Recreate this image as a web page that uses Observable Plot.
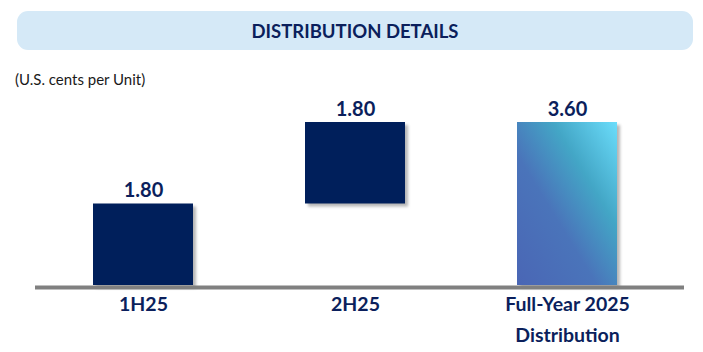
<!DOCTYPE html>
<html>
<head>
<meta charset="utf-8">
<script src="https://cdn.jsdelivr.net/npm/d3@7"></script>
<script src="https://cdn.jsdelivr.net/npm/@observablehq/plot@0.6"></script>
<style>
  html, body { margin: 0; padding: 0; background: #fff; }
  #wrap { position: relative; width: 703px; height: 352px; overflow: hidden; font-family: Lato, "Noto Sans", sans-serif; }
  #banner { position: absolute; left: 17px; top: 11px; width: 676px; height: 39px; border-radius: 11px; background: #D5E9F7;
    display: flex; align-items: center; justify-content: center; color: #0B1F5C; font-weight: bold; font-size: 18.5px; }
  #sub { position: absolute; left: 15px; top: 70px; font-size: 15px; color: #1a1a1a; }
  #chart { position: absolute; left: 0; top: 0; }
</style>
</head>
<body>
<div id="wrap">
  <div id="chart"></div>
  <div id="banner">DISTRIBUTION DETAILS</div>
  <div id="sub">(U.S. cents per Unit)</div>
</div>
<script>
const categories = ["1H25", "2H25", "Full-Year 2025\nDistribution"];
const barStart = [0, 1.80, 0];
const barEnd = [1.80, 3.60, 3.60];
const valueLabels = ["1.80", "1.80", "3.60"];

const rows = categories.map((c, i) => ({ cat: c, y1: barStart[i], y2: barEnd[i], label: valueLabels[i] }));
const navy = "#0B1F5C";
const font = "Lato, 'Noto Sans', sans-serif";

const chart = Plot.plot({
  width: 703,
  height: 352,
  marginLeft: 35,
  marginRight: 19,
  marginBottom: 67,
  marginTop: 100,
  style: { fontFamily: font, background: "transparent" },
  x: { domain: categories, range: [30.4, 679.4], paddingInner: 0.53, paddingOuter: 0.29, label: null },
  y: { domain: [0, 3.6], range: [285, 122], axis: null },
  color: { domain: categories, range: ["#001F5B", "#001F5B", "url(#fyGrad)"] },
  marks: [
    Plot.barY(rows, { x: "cat", y1: "y1", y2: "y2", fill: "#b5b5b5", dx: 3, dy: 3, inset: 0 }),
    Plot.barY(rows, { x: "cat", y1: "y1", y2: "y2", fill: "cat", inset: 0 }),
    Plot.text(rows, { x: "cat", y: "y2", text: "label", lineAnchor: "bottom", dy: -7, fill: navy, fontWeight: "bold", fontSize: 20 }),
    Plot.ruleY([0], { stroke: "#808080", strokeWidth: 4, dy: 2 }),
    Plot.axisX({ tickSize: 0, tickPadding: 4, fontSize: 19.5, fontWeight: "bold", fill: navy, lineHeight: 1.58, label: null })
  ]
});

const svg = d3.select(chart);
const defs = svg.insert("defs", ":first-child");
defs.html(`
  <linearGradient id="fyGrad" x1="0" y1="1" x2="1" y2="0">
    <stop offset="0" stop-color="#4A66B5"/>
    <stop offset="0.4" stop-color="#4A74BA"/>
    <stop offset="0.68" stop-color="#43A6C6"/>
    <stop offset="1" stop-color="#6BDDFB"/>
  </linearGradient>
  <filter id="shadowBlur" x="-20%" y="-20%" width="140%" height="140%">
    <feGaussianBlur stdDeviation="1.6"/>
  </filter>`);
const bars = chart.querySelectorAll('g[aria-label="bar"]');
if (bars.length) bars[0].setAttribute("filter", "url(#shadowBlur)");

document.getElementById("chart").appendChild(chart);
</script>
</body>
</html>
